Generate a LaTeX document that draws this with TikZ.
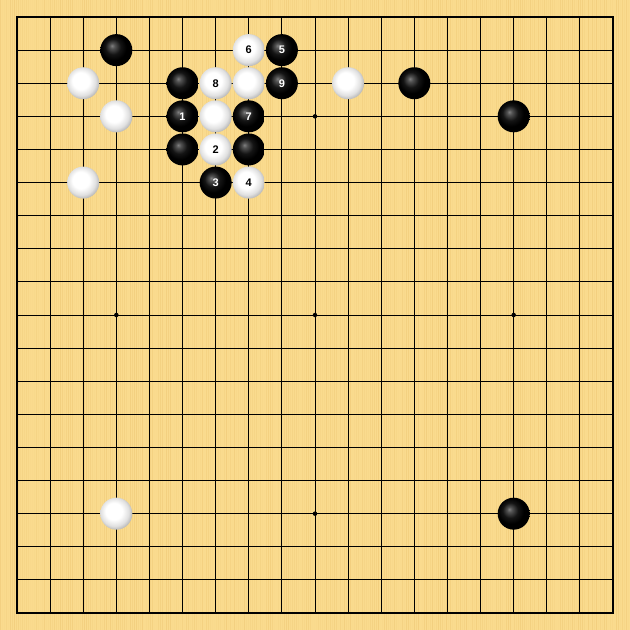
\documentclass[tikz,border=0pt]{standalone}
\usepackage{fontspec}
\setmainfont{Liberation Sans}
\definecolor{wood}{RGB}{250,219,142}
\definecolor{woodd}{RGB}{232,190,105}
\pgfdeclareradialshading{bball}{\pgfpoint{-7bp}{7bp}}{color(0bp)=(black!50); color(4bp)=(black!68); color(12bp)=(black!92); color(20bp)=(black); color(50bp)=(black)}
\pgfdeclareradialshading{wball}{\pgfpoint{-5bp}{5bp}}{color(0bp)=(white); color(13bp)=(white); color(22bp)=(black!12); color(29bp)=(black!32); color(50bp)=(black!40)}
\tikzset{
  stone/.style={circle,minimum size=32pt,inner sep=0pt,font=\bfseries\fontsize{11}{11}\selectfont},
  bstone/.style={stone,shading=bball,text=white},
  wstone/.style={stone,shading=wball,text=black},
  gridline/.style={line width=1pt,black},
  borderline/.style={line width=2pt,black},
  hoshi/.style={circle,fill=black,inner sep=0pt,minimum size=4.5pt}
}
\newcommand{\gs}{33.111}
\begin{document}
\begin{tikzpicture}[x=1pt,y=-1pt]
\useasboundingbox (0,0) rectangle (630,630);
\fill[wood] (0,0) rectangle (630,630);
\pgfmathsetseed{7}
\foreach \i in {0,...,314} {
  \pgfmathsetmacro\o{rnd*0.4}
  \fill[woodd,opacity=\o] (\i*2,0) rectangle ++(1,630);
}
% grid
\foreach \k in {1,...,17} {
  \draw[gridline] (17+\k*\gs,17) -- (17+\k*\gs,613);
  \draw[gridline] (17,17+\k*\gs) -- (613,17+\k*\gs);
}
\draw[borderline] (17,17) rectangle (613,613);
% star points
\foreach \c/\r [count=\n] in {3/3,9/3,15/3,3/9,9/9,15/9,3/15,9/15,15/15} {
  \node[hoshi] (h\n) at (17+\c*\gs,17+\r*\gs) {};
}
% stones
\foreach \c/\r/\t/\l [count=\n] in {
  3/1/b/{},7/1/w/6,8/1/b/5,
  2/2/w/{},5/2/b/{},6/2/w/8,7/2/w/{},8/2/b/9,10/2/w/{},12/2/b/{},
  3/3/w/{},5/3/b/1,6/3/w/{},7/3/b/7,15/3/b/{},
  5/4/b/{},6/4/w/2,7/4/b/{},
  2/5/w/{},6/5/b/3,7/5/w/4,
  3/15/w/{},15/15/b/{}} {
  \node[\t stone] (s\n) at (17+\c*\gs,17+\r*\gs) {\l};
}
\end{tikzpicture}
\end{document}
